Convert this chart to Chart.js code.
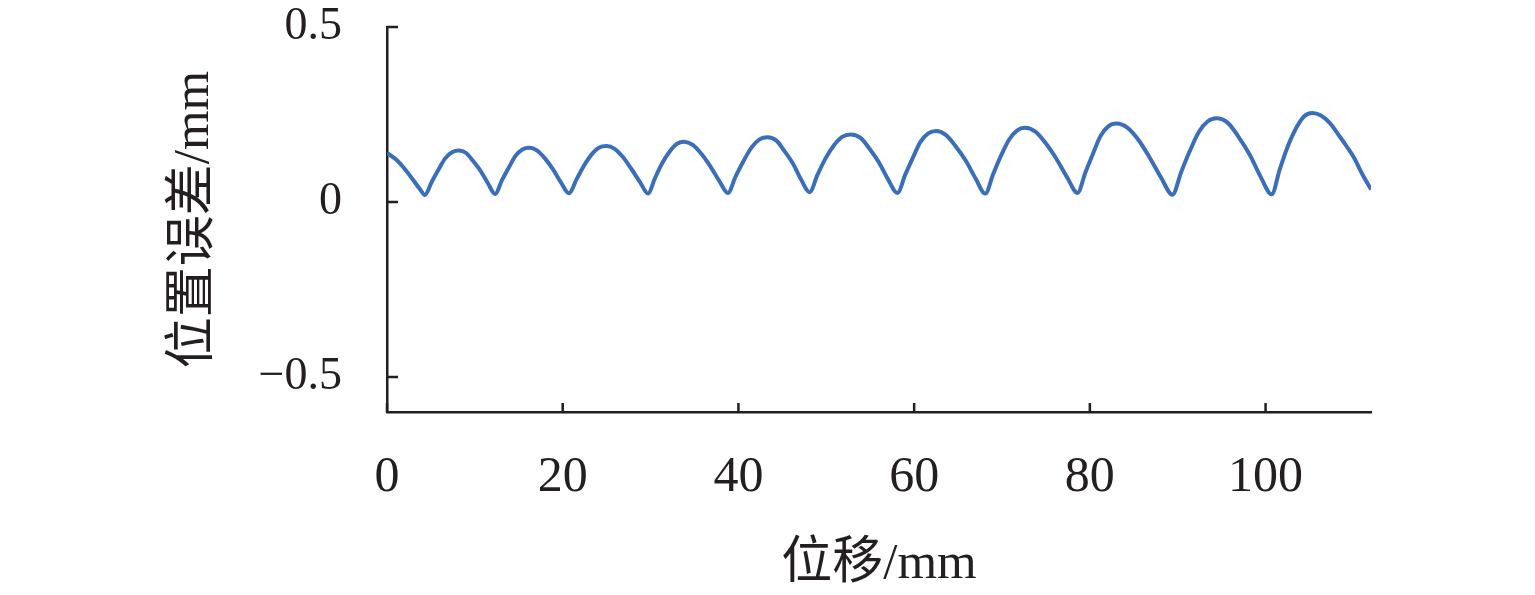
<!DOCTYPE html>
<html>
<head>
<meta charset="utf-8">
<title>位置误差</title>
<script src="https://cdn.jsdelivr.net/npm/chart.js@4/dist/chart.umd.min.js"></script>
<style>
  html, body { margin: 0; padding: 0; background: #fff; }
  canvas { display: block; }
</style>
</head>
<body>
<canvas id="errChart" width="1535" height="595"></canvas>
<script>
// displacement (mm) and position error (mm)
const displacement = [
  0, 1.0, 2.0, 3.0, 3.8, 4.3, 5.1, 5.9, 6.6, 7.4, 8.2, 9.0, 9.8, 10.7, 11.5, 12.3,
  13.1, 13.9, 14.6, 15.4, 16.2, 17.1, 18.0, 18.9, 19.8, 20.7, 21.6, 22.4, 23.3, 24.1, 25.0,
  25.9, 26.9, 27.8, 28.8, 29.7, 30.5, 31.3, 32.2, 33.0, 33.8, 34.8, 35.8, 36.8, 37.8, 38.8,
  39.7, 40.6, 41.5, 42.4, 43.3, 44.3, 45.2, 46.2, 47.1, 48.1, 49.0, 49.9, 50.9, 51.8, 52.8,
  53.9, 54.9, 56.0, 57.0, 58.1, 59.0, 59.9, 60.7, 61.6, 62.5, 63.6, 64.7, 65.9, 67.0, 68.1,
  69.0, 69.9, 70.8, 71.7, 72.6, 73.8, 75.0, 76.2, 77.4, 78.6, 79.5, 80.4, 81.2, 82.1, 83.0,
  84.3, 85.6, 86.8, 88.1, 89.4, 90.4, 91.4, 92.4, 93.4, 94.4, 95.7, 96.9, 98.2, 99.4, 100.7,
  101.6, 102.5, 103.5, 104.4, 105.3, 106.3, 107.3, 108.3, 109.2, 110.1, 111.0, 112.0
];
const posError = [
  0.140, 0.122, 0.095, 0.062, 0.035, 0.020, 0.058, 0.094, 0.124, 0.142, 0.147, 0.140, 0.117, 0.087, 0.053, 0.023,
  0.063, 0.100, 0.131, 0.150, 0.155, 0.147, 0.124, 0.093, 0.056, 0.025, 0.066, 0.103, 0.136, 0.155, 0.160,
  0.152, 0.127, 0.095, 0.057, 0.024, 0.068, 0.110, 0.145, 0.166, 0.172, 0.163, 0.137, 0.102, 0.061, 0.026,
  0.074, 0.118, 0.156, 0.179, 0.185, 0.176, 0.147, 0.110, 0.066, 0.028, 0.078, 0.124, 0.163, 0.186, 0.193,
  0.183, 0.153, 0.113, 0.066, 0.026, 0.079, 0.129, 0.171, 0.196, 0.203, 0.192, 0.160, 0.117, 0.067, 0.024,
  0.080, 0.133, 0.178, 0.204, 0.212, 0.201, 0.167, 0.123, 0.071, 0.026, 0.085, 0.141, 0.188, 0.216, 0.224,
  0.212, 0.175, 0.127, 0.070, 0.021, 0.086, 0.147, 0.200, 0.230, 0.239, 0.226, 0.187, 0.135, 0.074, 0.022,
  0.092, 0.157, 0.212, 0.245, 0.254, 0.247, 0.226, 0.192, 0.160, 0.125, 0.080, 0.036
];

// axis ticks
const xTicks = [0, 20, 40, 60, 80, 100];
const yTicks = [-0.5, 0, 0.5];
const yTickLabels = ['\u22120.5', '0', '0.5'];

const xTitle = '位移/mm';
const yTitle = '位置误差/mm';

document.addEventListener('DOMContentLoaded', () => {
  const ink = '#231f20';
  const family = "'Liberation Serif', 'Noto Sans CJK SC', serif";

  // tick marks point into the plot, like the original
  const innerTicks = {
    id: 'innerTicks',
    afterDraw(chart) {
      const { ctx, chartArea, scales } = chart;
      ctx.save();
      ctx.strokeStyle = ink;
      ctx.lineWidth = 2.5;
      ctx.beginPath();
      scales.x.ticks.forEach(t => {
        const px = scales.x.getPixelForValue(t.value);
        ctx.moveTo(px, chartArea.bottom);
        ctx.lineTo(px, chartArea.bottom - 9);
      });
      scales.y.ticks.forEach(t => {
        const py = scales.y.getPixelForValue(t.value);
        ctx.moveTo(chartArea.left, py);
        ctx.lineTo(chartArea.left + 11, py);
      });
      ctx.stroke();
      ctx.restore();
    }
  };

  new Chart(document.getElementById('errChart'), {
    type: 'scatter',
    data: {
      datasets: [{
        data: displacement.map((x, i) => ({ x, y: posError[i] })),
        showLine: true,
        borderColor: '#3a6eb9',
        borderWidth: 4,
        pointRadius: 0,
        cubicInterpolationMode: 'monotone'
      }]
    },
    options: {
      responsive: false,
      animation: false,
      layout: { padding: { top: 27, right: 164, bottom: 0, left: 0 } },
      plugins: { legend: { display: false }, tooltip: { enabled: false } },
      scales: {
        x: {
          type: 'linear',
          min: 0, max: 112,
          afterBuildTicks: s => { s.ticks = xTicks.map(v => ({ value: v })); },
          afterFit: s => { s.height = 183; s.paddingLeft = 0; s.paddingRight = 0; },
          grid: { display: false, drawTicks: false },
          border: { display: true, color: ink, width: 2.5 },
          ticks: {
            padding: 36,
            color: ink,
            font: { family, size: 50 },
            callback: v => String(v)
          },
          title: {
            display: true,
            text: xTitle,
            color: ink,
            font: { family, size: 51 },
            padding: { top: 0, bottom: 0 }
          }
        },
        y: {
          min: -0.6, max: 0.5,
          afterBuildTicks: s => { s.ticks = yTicks.map(v => ({ value: v })); },
          afterFit: s => { s.width = 387; s.paddingTop = 0; s.paddingBottom = 0; },
          grid: { display: false, drawTicks: false },
          border: { display: true, color: ink, width: 2.5 },
          ticks: {
            padding: 45,
            color: ink,
            font: { family, size: 46 },
            callback: (v, i) => yTickLabels[i]
          },
          title: {
            display: true,
            text: yTitle,
            color: ink,
            font: { family, size: 51 },
            padding: { top: 164, bottom: 0 }
          }
        }
      }
    },
    plugins: [innerTicks]
  });
});
</script>
</body>
</html>
